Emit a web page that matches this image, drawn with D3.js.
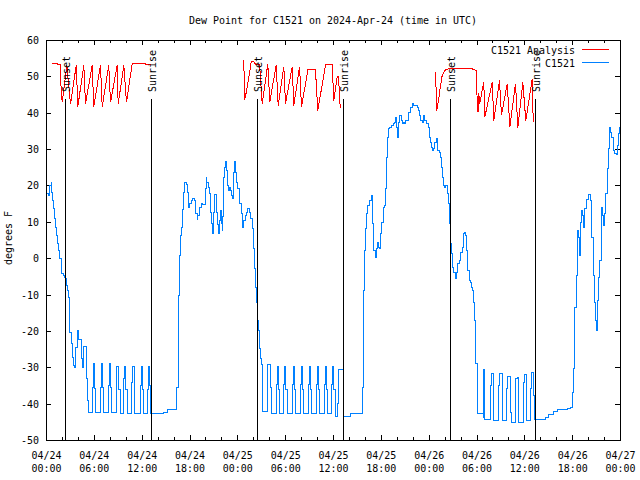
<!DOCTYPE html>
<html><head><meta charset="utf-8">
<script src="https://cdn.jsdelivr.net/npm/d3@7"></script>
<style>
body{margin:0;background:#fff}
svg{display:block}
text{font-family:"DejaVu Sans Mono",monospace;font-size:11px;fill:#000}
</style>
</head><body>
<svg id="c" width="640" height="480"></svg>
<script>
// ---------- data ----------
const chartTitle = "Dew Point for C1521 on 2024-Apr-24 (time in UTC)";
const yAxisLabel = "degrees F";
const seriesNames = ["C1521 Analysis", "C1521"];
const seriesColors = ["#ff0000", "#0080ff"];
const startUTC = Date.UTC(2024, 3, 24, 0, 0);
const spanHours = 72;
const yTicks = [-50, -40, -30, -20, -10, 0, 10, 20, 30, 40, 50, 60];
const sunsetHours = [2.38, 26.5, 50.64];
const sunriseHours = [13.17, 37.25, 61.3];
const markerTopValue = 43.7;

// C1521 Analysis, [hours since 04/24 00:00 UTC, degF]
const analysisNight1 = [[0.72,53.8],[1.34,53.8],[1.38,53.5],[1.76,53.5],[1.79,48.3],[1.97,43],
 [2.55,53.2],[3.01,42.5],[3.73,53.2],[3.93,41.8],[4.68,53.2],[4.89,42.5],[5.73,53.2],[5.93,41.8],
 [6.77,53.2],[6.99,41.8],[7.81,53.2],[8.03,43],[8.87,53.2],[8.99,42.5],[9.7,53.2],[10.03,43],
 [10.75,53.6],[12.42,53.6],[12.54,53.3],[13.05,53.3]];
const analysisNight2 = [[24.75,54.5],[24.84,43.7],[25.09,46],[25.46,51],[25.68,54.2],[26.0,54.2],
 [26.22,53.5],[26.72,53.5],[27.06,42.6],[27.76,53.6],[28.01,43],[28.81,53.3],[29.06,42.1],
 [29.77,52.8],[29.98,42.6],[30.82,52.8],[31.02,42.1],[31.74,52.8],[31.99,41.7],[32.78,51.9],
 [33.74,51.9],[34.03,40.75],[35.0,53.3],[35.84,53.3],[36.04,43.5],[36.47,50],[36.63,50],[36.84,41.5]];
const analysisNight3 = [[48.8,51.3],[48.96,40.75],[49.05,42],[49.21,44],[49.33,46.25],[49.51,48.5],
 [49.63,50.4],[49.84,51.3],[50.05,51.9],[50.46,52.2],[53.4,52.2],[53.94,51.75],[54.03,41.7],
 [54.13,40.3],[54.23,45.5],[54.32,42.5],[54.85,48.5],[54.98,38.9],[55.91,48.5],[56.11,38],
 [56.82,49],[57.07,39.4],[57.79,48.1],[58.12,36.2],[58.83,48.1],[59.12,36],[59.75,48.5],
 [60.12,38],[60.93,49.5],[61.05,37.5]];

// C1521 observed, [hours, degF]
const observed = [[0,18],[0.29,17.4],[0.41,20.1],[0.59,21],[0.63,18.3],[0.72,16],[0.84,13.7],[1.0,11],
 [1.13,8.7],[1.25,6.4],[1.42,4.1],[1.54,2.2],[1.67,0],[1.84,-2.3],[1.88,-4.2],[2.09,-4.6],[2.3,-5.1],
 [2.38,-5.5],[2.47,-7.4],[2.6,-8.75],[2.72,-10.6],[2.85,-15.1],[2.92,-20.2],[3.1,-23.4],[3.22,-27.1],
 [3.35,-29.4],[3.51,-29.8],[3.6,-27],[3.68,-24.4],[3.93,-19.75],[4.01,-21],[4.05,-22.3],[4.43,-27.5],
 [4.55,-29.8],[4.68,-24.2],[5.02,-33],[5.18,-39],[5.31,-42.2],
 [5.73,-35.3],[5.85,-28.9],[6.06,-35.8],[6.15,-42.2],
 [6.77,-35.3],[6.86,-28.9],[7.02,-35.5],[7.19,-42.2],
 [7.8,-35],[7.86,-28.9],[8.03,-35.5],[8.12,-42.2],
 [8.72,-33],[8.8,-29.6],[9.0,-36],[9.22,-42.7],
 [9.7,-33],[9.78,-29.6],[9.95,-36],[10.1,-42.7],
 [10.72,-34],[10.8,-29.6],[10.98,-36],[11.1,-42.7],
 [11.8,-35],[11.88,-29.6],[12.05,-36],[12.15,-42.7],
 [12.72,-36],[12.8,-29.6],[12.95,-35],[13.1,-42.7],
 [14.7,-42.2],[15.2,-41.6],[16.35,-35.3],[16.55,-19.75],[16.6,-10.1],[16.7,0.9],[16.78,6.4],
 [16.99,8.7],[17.12,13.5],[17.24,18.3],[17.33,20.9],[17.5,20.3],[17.65,18.3],[17.84,14.2],[17.97,15.1],
 [18.15,16],[18.35,16.6],[18.57,16],[18.73,12.3],[18.9,10.7],[18.98,11.9],[19.15,14.2],[19.4,15.3],
 [19.6,14.9],[19.92,19.2],[20.05,22.2],[20.13,21],[20.26,19.7],[20.44,17.8],[20.55,12.8],[20.68,9.6],
 [20.84,6.8],[20.92,12.8],[21.05,17.6],[21.33,12.8],[21.5,9.4],[21.59,6.8],[21.66,10.5],[21.84,13.2],
 [21.97,9.6],[22.05,7.75],[22.12,11.6],[22.25,22.4],[22.38,25.2],[22.5,26.7],[22.63,24.25],[22.72,20.1],
 [22.84,18.75],[22.97,19.7],[23.1,18.75],[23.22,17.4],[23.3,16.5],[23.43,23.8],[23.56,26.7],[23.68,23.8],
 [23.86,21],[24.02,19.2],[24.15,16.9],[24.27,15.1],[24.4,12.3],[24.54,8.7],[24.75,10.5],[24.92,11.9],
 [25.09,12.8],[25.25,13.7],[25.42,12.8],[25.59,11],[25.8,8.2],[25.93,2.7],[26.05,-2.8],[26.2,-8],
 [26.35,-12],[26.5,-17],[26.6,-19.75],[26.75,-24.8],[26.84,-27.5],[26.97,-29.1],[27.06,-35.8],[27.14,-42],
 [27.76,-29.1],[28.1,-35.5],[28.23,-42.5],
 [28.84,-34.5],[28.94,-29.6],[29.09,-36],[29.24,-42.6],
 [29.79,-34.5],[29.89,-29.6],[30.04,-36],[30.19,-42.6],
 [30.84,-34.5],[30.94,-29.6],[31.09,-36],[31.24,-42.6],
 [31.85,-34.5],[31.95,-29.6],[32.1,-36],[32.25,-42.6],
 [32.89,-34.5],[32.99,-29.6],[33.14,-36],[33.29,-42.6],
 [33.85,-34.5],[33.95,-29.6],[34.1,-36],[34.25,-42.6],
 [34.9,-34.5],[35.0,-29.6],[35.15,-36],[35.3,-42.6],
 [35.81,-34.5],[35.91,-29.6],[36.06,-36],[36.2,-43.4],
 [36.46,-39.9],[36.67,-30.6],[37.29,-43.4],[38.13,-42.7],[39.6,-35.3],[39.73,-19.75],[39.8,-8.75],
 [39.88,2.25],[40.0,8.2],[40.12,12.3],[40.3,14.6],[40.55,16],[40.73,17.4],[40.85,15.1],[40.93,9.6],
 [41.06,2.25],[41.27,0.4],[41.4,2.7],[41.56,4.5],[41.69,3.2],[41.81,2.7],[41.9,6.8],[42.06,10.05],
 [42.24,14.2],[42.4,14.6],[42.53,19.2],[42.65,27.9],[42.78,33.4],[42.94,35.7],[43.07,36.2],[43.28,36.6],
 [43.49,37.1],[43.65,37.5],[43.78,38.9],[43.9,36.2],[44.07,33.4],[44.2,37.5],[44.32,39.4],[44.5,38],
 [44.62,37.1],[44.75,37.5],[44.91,37.1],[45.07,38],[45.45,40.3],[45.66,41.7],[45.87,42.6],[46.07,42.1],
 [46.5,41.7],[46.7,40.75],[46.83,39.4],[46.91,38],[47.13,37.5],[47.33,39.4],[47.45,38],[47.63,37.1],
 [47.95,36.2],[48.08,33.4],[48.17,32],[48.29,30.7],[48.42,29.75],[48.58,30.2],[48.71,32],[48.88,33],
 [49.01,29.75],[49.3,29.3],[49.42,27.9],[49.55,25.2],[49.67,22.4],[49.76,20.1],[49.92,19.7],[50.09,20.1],
 [50.26,17.8],[50.39,15.1],[50.51,13.2],[50.59,9.6],[50.68,4.1],[50.8,1.4],[50.93,-2.3],[51.09,-3.7],
 [51.27,-5.5],[51.43,-3.7],[51.59,-1.4],[51.77,-0.5],[51.93,1.8],[52.14,3.2],[52.27,6.8],[52.4,7.3],
 [52.52,6.4],[52.68,2.25],[52.85,-3.2],[53.02,-6],[53.19,-6.5],[53.31,-7.8],[53.4,-8.75],[53.52,-12],
 [53.73,-17],[53.8,-24.8],[53.85,-28.9],[54.1,-42.7],[54.78,-43.6],[54.85,-30.6],[54.94,-44.1],
 [55.7,-34.9],[55.82,-31.7],[56.1,-44.5],[56.73,-35],[56.86,-31.7],[57.16,-36],[57.24,-44.5],
 [57.7,-35.8],[57.86,-32.4],[58.2,-42.2],[58.29,-45.1],[58.83,-33],[59.04,-32.6],[59.24,-45.1],
 [59.8,-34],[59.96,-31.9],[60.21,-44.5],[60.71,-35.8],[60.84,-31.2],[61.13,-37.6],[61.21,-44.1],
 [62.59,-43.6],[63.0,-42.85],[63.63,-42],[64.06,-41.6],[65.31,-41.3],[65.73,-40.8],[65.94,-40.4],
 [66.02,-36.7],[66.14,-30.3],[66.23,-22.5],[66.27,-13.3],[66.44,-4.6],[66.57,3.6],[66.64,7.75],
 [66.77,5.9],[66.9,0.9],[66.98,10],[67.15,13.2],[67.23,11.9],[67.4,8.7],[67.52,13.7],[67.7,16.4],
 [67.95,17.6],[68.24,16],[68.4,5.9],[68.58,-4.6],[68.7,-12],[68.87,-17],[68.95,-19.75],[69.08,-11.5],
 [69.2,-5.1],[69.4,-0.5],[69.58,14.2],[69.7,11.9],[69.83,9.1],[69.99,12.3],[70.16,17.8],[70.33,24.7],
 [70.46,30.2],[70.58,33.9],[70.66,36.2],[70.75,34.8],[70.87,33.4],[71.09,29.75],[71.29,28.8],
 [71.46,28.6],[71.59,31.1],[71.75,34.3],[71.84,36.2],[72,36.2]];

// ---------- drawing ----------
const svg = d3.select("#c");
const toDate = h => new Date(startUTC + h * 3600e3);
const x = d3.scaleUtc().domain([toDate(0), toDate(spanHours)]).range([46, 620]);
const y = d3.scaleLinear().domain([-50, 60]).range([440, 40]);

const xMajor = x.ticks(d3.utcHour.every(6));
const xMinor = x.ticks(d3.utcHour.every(2)).filter(d => d.getUTCHours() % 6 !== 0);

function axisG(gen, tx, ty) {
  const g = svg.append("g").attr("transform", `translate(${tx},${ty})`).call(gen);
  g.select(".domain").remove();
  g.selectAll("line").attr("stroke", "#000").attr("shape-rendering", "crispEdges");
  return g;
}
axisG(d3.axisBottom(x).tickValues(xMajor).tickSizeInner(-5).tickSizeOuter(0).tickFormat(""), 0, 440);
axisG(d3.axisBottom(x).tickValues(xMinor).tickSizeInner(-3).tickSizeOuter(0).tickFormat(""), 0, 440);
axisG(d3.axisTop(x).tickValues(xMajor).tickSizeInner(-5).tickSizeOuter(0).tickFormat(""), 0, 40);
axisG(d3.axisTop(x).tickValues(xMinor).tickSizeInner(-3).tickSizeOuter(0).tickFormat(""), 0, 40);
axisG(d3.axisLeft(y).tickValues(yTicks).tickSizeInner(-5).tickSizeOuter(0).tickPadding(7)
      .tickFormat(d => String(d)), 46, 0);
axisG(d3.axisRight(y).tickValues(yTicks).tickSizeInner(-5).tickSizeOuter(0).tickFormat(""), 620, 0);

// x tick labels (two lines)
const fmtDate = d3.utcFormat("%m/%d"), fmtTime = d3.utcFormat("%H:%M");
const xl = svg.append("g");
xMajor.forEach(d => {
  xl.append("text").attr("x", x(d) + 0.5).attr("y", 459).attr("text-anchor", "middle").text(fmtDate(d));
  xl.append("text").attr("x", x(d) + 0.5).attr("y", 472).attr("text-anchor", "middle").text(fmtTime(d));
});

// series
const gS = svg.append("g").attr("transform", "translate(0.5,0.5)");
const redLine = d3.line().x(d => x(toDate(d[0]))).y(d => y(d[1]));
[analysisNight1, analysisNight2, analysisNight3].forEach(arr => {
  gS.append("path").datum(arr).attr("d", redLine).attr("fill", "none")
    .attr("stroke", seriesColors[0]).attr("stroke-width", 1).attr("shape-rendering", "crispEdges");
});
const blueLine = d3.line().curve(d3.curveStepAfter).x(d => x(toDate(d[0]))).y(d => y(d[1]));
gS.append("path").datum(observed).attr("d", blueLine).attr("fill", "none")
  .attr("stroke", seriesColors[1]).attr("stroke-width", 1).attr("shape-rendering", "crispEdges");

// sunset / sunrise markers
const markers = sunsetHours.map(h => ({h, label: "Sunset"}))
  .concat(sunriseHours.map(h => ({h, label: "Sunrise"})));
markers.forEach(m => {
  const px = Math.round(x(toDate(m.h))) + 0.5;
  svg.append("line").attr("x1", px).attr("x2", px).attr("y1", Math.round(y(markerTopValue)))
    .attr("y2", 440).attr("stroke", "#000").attr("shape-rendering", "crispEdges");
  svg.append("text").attr("transform", `translate(${px + 4},92) rotate(-90)`)
    .attr("text-anchor", "start").text(m.label);
});

// frame
svg.append("rect").attr("x", 46.5).attr("y", 40.5).attr("width", 574).attr("height", 400)
  .attr("fill", "none").attr("stroke", "#000").attr("shape-rendering", "crispEdges");

// title & y label
svg.append("text").attr("x", 333).attr("y", 24).attr("text-anchor", "middle").text(chartTitle);
svg.append("text").attr("transform", "translate(12,238) rotate(-90)").attr("text-anchor", "middle").text(yAxisLabel);

// legend
seriesNames.forEach((name, i) => {
  const ly = 50 + i * 12.5;
  svg.append("text").attr("x", 575).attr("y", ly + 4).attr("text-anchor", "end").text(name);
  svg.append("line").attr("x1", 582).attr("x2", 609).attr("y1", Math.round(ly) - 0.5).attr("y2", Math.round(ly) - 0.5)
    .attr("stroke", seriesColors[i]).attr("shape-rendering", "crispEdges");
});

// approximate the 6px-per-character bitmap font
svg.selectAll("text").each(function () {
  const n = this.textContent.length;
  if (n > 0) {
    this.setAttribute("textLength", n * 6);
    this.setAttribute("lengthAdjust", "spacingAndGlyphs");
  }
});
</script>
</body></html>
